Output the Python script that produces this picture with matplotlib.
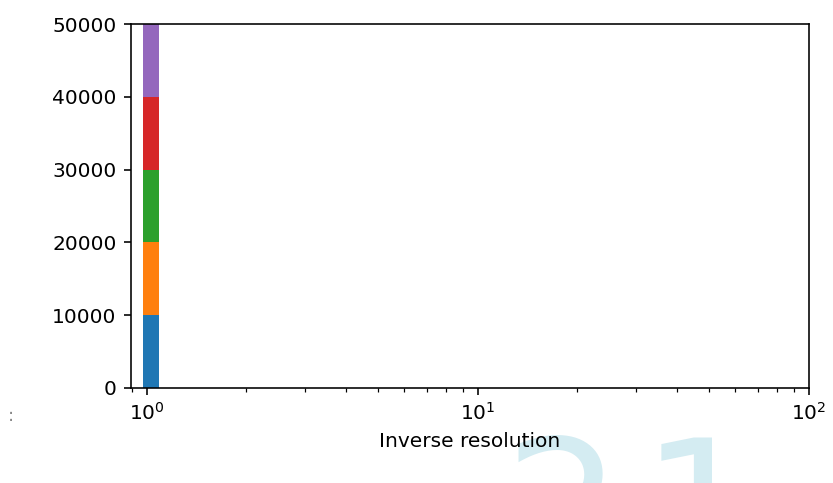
import matplotlib
matplotlib.use("Agg")
import matplotlib.pyplot as plt
import numpy as np

# Stacked histogram of counts per inverse-resolution bin (five stacked series)
bin_left = [0.972]
bin_right = [1.087]
series_counts = [
    [10000],
    [10000],
    [10000],
    [10000],
    [10000],
]
series_colors = ["#1f77b4", "#ff7f0e", "#2ca02c", "#d62728", "#9467bd"]

DPI = 145
fig = plt.figure(figsize=(833 / DPI, 483 / DPI), dpi=DPI)

# faint watermark in the lower right corner, drawn beneath everything
wm_style = dict(fontsize=92, color="#d4ecf2", ha="left", va="baseline", zorder=0)
fig.text(0.604, -0.186, "2", **wm_style)
fig.text(0.769, -0.186, "1", **wm_style)

ax = fig.add_axes([0.157, 0.197, 0.814, 0.753])
ax.set_zorder(1)

left = np.array(bin_left)
widths = np.array(bin_right) - left
bottom = np.zeros(len(left))
for counts, color in zip(series_counts, series_colors):
    counts = np.array(counts, dtype=float)
    ax.bar(left, counts, width=widths, bottom=bottom, align="edge",
           color=color, linewidth=0)
    bottom += counts

ax.set_xscale("log")
ax.set_xlim(0.895, 100)
ax.set_ylim(0, 50000)
ax.set_yticks([0, 10000, 20000, 30000, 40000, 50000])
ax.set_xlabel("Inverse resolution")

# clipped fragment at the left margin
fig.text(0.010, 0.128, ":", fontsize=9, color="#888888", ha="left", va="baseline")

fig.savefig("out.png", dpi=DPI)
